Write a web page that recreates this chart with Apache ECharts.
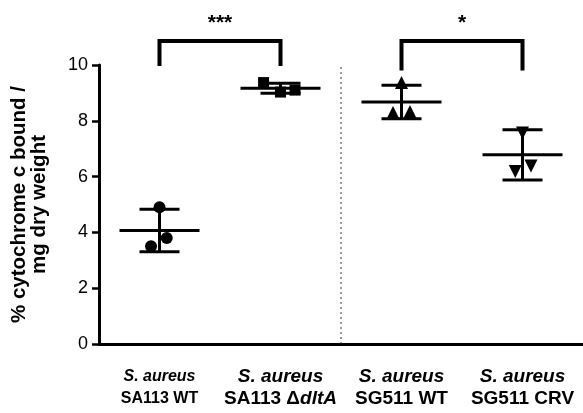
<!DOCTYPE html>
<html>
<head>
<meta charset="utf-8">
<script src="https://cdn.jsdelivr.net/npm/echarts@6/dist/echarts.min.js"></script>
<style>
html,body{margin:0;padding:0;background:#fff;}
#chart{width:583px;height:413px;}
</style>
</head>
<body>
<div id="chart"></div>
<script>
// ---- data ----
var categories = ['SA113 WT', 'SA113 \u0394dltA', 'SG511 WT', 'SG511 CRV'];
var yTicks = [0, 2, 4, 6, 8, 10];
var valuesSA113WT   = [4.90, 3.80, 3.50];
var valuesSA113dltA = [9.37, 9.03, 9.10];
var valuesSG511WT   = [9.37, 8.30, 8.33];
var valuesSG511CRV  = [7.56, 6.18, 6.38];
var jitterSA113WT   = [0.00, 0.06, -0.07];
var jitterSA113dltA = [-0.14, 0.00, 0.12];
var jitterSG511WT   = [0.00, -0.07, 0.07];
var jitterSG511CRV  = [0.00, -0.06, 0.07];
var means = [4.07, 9.17, 8.67, 6.78];
var sds   = [0.76, 0.18, 0.60, 0.90];
var brackets = [ // [from, to, top, leftLegBottom, rightLegBottom, label]
  [0, 1, 10.86, 9.96, 9.96, '***'],
  [2, 3, 10.86, 9.80, 9.80, '*']
];
var separatorX = 1.5;

var FONT = '"Liberation Sans", Arial, Helvetica, sans-serif';

function pts(vals, jit, idx) {
  return vals.map(function (v, i) { return [idx + jit[i], v]; });
}

var chart = echarts.init(document.getElementById('chart'), null, {renderer: 'canvas'});

var option = {
  animation: false,
  backgroundColor: '#fff',
  grid: {left: 99, right: 0, top: 65, bottom: 69, containLabel: false},
  xAxis: [{
    type: 'category',
    data: categories,
    boundaryGap: true,
    axisLine: {lineStyle: {color: '#000', width: 3}},
    axisTick: {alignWithLabel: true, length: 7, lineStyle: {color: '#000', width: 3}},
    splitLine: {show: false},
    axisLabel: {
      interval: 0,
      margin: 22,
      fontFamily: FONT,
      color: '#000',
      formatter: function (v, i) {
        if (i === 0) return '{si|S. aureus}\n{sb|SA113 WT}';
        if (i === 1) return '{i|S. aureus}\n{b|SA113 \u0394}{bi|dltA}';
        return '{i|S. aureus}\n{b|' + v + '}';
      },
      rich: {
        si: {fontFamily: FONT, fontStyle: 'italic', fontWeight: 'bold', fontSize: 16, lineHeight: 22},
        sb: {fontFamily: FONT, fontWeight: 'bold', fontSize: 16, lineHeight: 22},
        i: {fontFamily: FONT, fontStyle: 'italic', fontWeight: 'bold', fontSize: 19, lineHeight: 22},
        b: {fontFamily: FONT, fontWeight: 'bold', fontSize: 19, lineHeight: 22},
        bi: {fontFamily: FONT, fontStyle: 'italic', fontWeight: 'bold', fontSize: 19, lineHeight: 22}
      }
    }
  }, {
    type: 'value',
    min: -0.5, max: 3.5,
    show: false
  }],
  yAxis: {
    type: 'value',
    min: yTicks[0], max: yTicks[yTicks.length - 1], interval: 2,
    name: '% cytochrome c bound /\nmg dry weight',
    nameLocation: 'middle',
    nameGap: 50,
    nameTextStyle: {fontFamily: FONT, fontWeight: 'bold', fontSize: 20.5, lineHeight: 20, color: '#000'},
    axisLine: {show: true, onZero: false, lineStyle: {color: '#000', width: 3}},
    axisTick: {show: true, length: 7, lineStyle: {color: '#000', width: 2.5}},
    splitLine: {show: false},
    axisLabel: {fontFamily: FONT, fontSize: 18, color: '#000', margin: 11}
  },
  series: [
    {
      type: 'custom', xAxisIndex: 1, z: 1, silent: true,
      data: [[separatorX]],
      renderItem: function (params, api) {
        var p0 = api.coord([api.value(0), 0]);
        var p1 = api.coord([api.value(0), 10]);
        return {type: 'line', shape: {x1: p0[0], y1: p0[1], x2: p1[0], y2: p1[1]},
          style: {stroke: '#333', lineWidth: 1, lineDash: [2, 3]}};
      }
    },
    {
      type: 'custom', xAxisIndex: 1, z: 3, silent: true,
      data: means.map(function (m, i) { return [i, m, sds[i]]; }),
      renderItem: function (params, api) {
        var x = api.value(0), m = api.value(1), s = api.value(2);
        var c = api.coord([x, m]);
        var t = api.coord([x, m + s]);
        var b = api.coord([x, m - s]);
        var st = {stroke: '#000', lineWidth: 3};
        return {type: 'group', children: [
          {type: 'line', shape: {x1: c[0] - 40, y1: c[1], x2: c[0] + 40, y2: c[1]}, style: st},
          {type: 'line', shape: {x1: c[0], y1: t[1], x2: c[0], y2: b[1]}, style: st},
          {type: 'line', shape: {x1: c[0] - 20, y1: t[1], x2: c[0] + 20, y2: t[1]}, style: st},
          {type: 'line', shape: {x1: c[0] - 20, y1: b[1], x2: c[0] + 20, y2: b[1]}, style: st}
        ]};
      }
    },
    {type: 'scatter', xAxisIndex: 1, z: 4, symbol: 'circle', symbolSize: 12,
      itemStyle: {color: '#000', opacity: 1}, data: pts(valuesSA113WT, jitterSA113WT, 0)},
    {type: 'scatter', xAxisIndex: 1, z: 4, symbol: 'rect', symbolSize: 11,
      itemStyle: {color: '#000', opacity: 1}, data: pts(valuesSA113dltA, jitterSA113dltA, 1)},
    {type: 'scatter', xAxisIndex: 1, z: 4, symbol: 'triangle', symbolSize: 13,
      itemStyle: {color: '#000', opacity: 1}, data: pts(valuesSG511WT, jitterSG511WT, 2)},
    {type: 'scatter', xAxisIndex: 1, z: 4, symbol: 'triangle', symbolSize: 13, symbolRotate: 180,
      itemStyle: {color: '#000', opacity: 1}, data: pts(valuesSG511CRV, jitterSG511CRV, 3)},
    {
      type: 'custom', xAxisIndex: 1, z: 5, silent: true, clip: false,
      data: brackets,
      renderItem: function (params, api) {
        var a = api.value(0), b = api.value(1), top = api.value(2), lb = api.value(3), rb = api.value(4);
        var p1 = api.coord([a, lb]);
        var p2 = api.coord([a, top]);
        var p3 = api.coord([b, top]);
        var p4 = api.coord([b, rb]);
        var label = brackets[params.dataIndex][5];
        return {type: 'group', children: [
          {type: 'polyline', shape: {points: [p1, p2, p3, p4]},
            style: {stroke: '#000', lineWidth: 4, fill: null, lineJoin: 'miter'}},
          {type: 'text', x: (p2[0] + p3[0]) / 2, y: p2[1] - 7,
            style: {text: label, fontFamily: FONT, fontWeight: 'bold', fontSize: 21,
              fill: '#000', align: 'center', verticalAlign: 'bottom'}}
        ]};
      }
    }
  ]
};
chart.setOption(option);
</script>
</body>
</html>
